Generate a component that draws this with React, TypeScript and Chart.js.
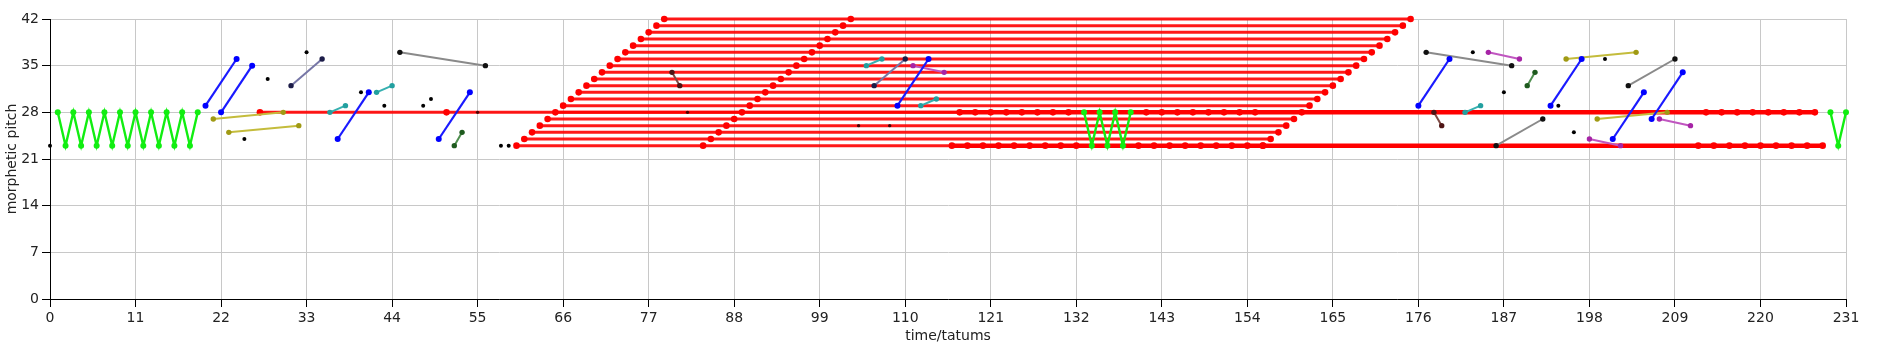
import React, { useEffect, useRef } from "react";
import { Chart, registerables } from "chart.js";

Chart.register(...registerables);

// ---- axes ----
const X_TICKS = [0, 11, 22, 33, 44, 55, 66, 77, 88, 99, 110, 121, 132, 143, 154, 165, 176, 187, 198, 209, 220, 231];
const Y_TICKS = [0, 7, 14, 21, 28, 35, 42];
const X_TITLE = "time/tatums";
const Y_TITLE = "morphetic pitch";

// ---- red staircase (20 translated occurrences) ----
const stairPitch = [23, 24, 25, 26, 27, 28, 29, 30, 31, 32, 33, 34, 35, 36, 37, 38, 39, 40, 41, 42];
const stairOnset = [60, 61, 62, 63, 64, 65, 66, 67, 68, 69, 70, 71, 72, 73, 74, 75, 76, 77, 78, 79];
const stairMiddle = [84, 85, 86, 87, 88, 89, 90, 91, 92, 93, 94, 95, 96, 97, 98, 99, 100, 101, 102, 103];
const stairOffset = [156, 157, 158, 159, 160, 161, 162, 163, 164, 165, 166, 167, 168, 169, 170, 171, 172, 173, 174, 175];

// ---- red long lines ----
const red28Dots = [27, 51];
const red28Span = [27, 227];
const redThick28 = [117, 119, 121, 123, 125, 127, 129, 131, 141, 143, 145, 147, 149, 151, 153, 155, 213, 215, 217, 219, 221, 223, 225, 227];
const redThick23 = [116, 118, 120, 122, 124, 126, 128, 130, 132, 140, 142, 144, 146, 148, 150, 152, 154, 156, 212, 214, 216, 218, 220, 222, 224, 226, 228];

// ---- green zigzags ----
const greenA_t = [1, 2, 3, 4, 5, 6, 7, 8, 9, 10, 11, 12, 13, 14, 15, 16, 17, 18, 19];
const greenA_p = [28, 23, 28, 23, 28, 23, 28, 23, 28, 23, 28, 23, 28, 23, 28, 23, 28, 23, 28];
const greenB_t = [133, 134, 135, 136, 137, 138, 139];
const greenB_p = [28, 23, 28, 23, 28, 23, 28];
const greenC_t = [229, 230, 231];
const greenC_p = [28, 23, 28];

// ---- two-note segments [t1, p1, t2, p2] ----
const blueSegs = [[20, 29, 24, 36], [22, 28, 26, 35], [37, 24, 41, 31], [50, 24, 54, 31], [109, 29, 113, 36], [176, 29, 180, 36], [193, 29, 197, 36], [201, 24, 205, 31], [206, 27, 210, 34]];
const oliveSegs = [[21, 27, 30, 28], [23, 25, 32, 26], [195, 36, 204, 37], [199, 27, 208, 28]];
const slateSegs = [[31, 32, 35, 36], [106, 32, 110, 36]];
const graySegs = [[45, 37, 56, 35], [177, 37, 188, 35], [186, 23, 192, 27], [203, 32, 209, 36]];
const cyanSegs = [[36, 28, 38, 29], [42, 31, 44, 32], [105, 35, 107, 36], [112, 29, 114, 30], [182, 28, 184, 29]];
const magentaSegs = [[111, 35, 115, 34], [185, 37, 189, 36], [198, 24, 202, 23], [207, 27, 211, 26]];
const darkGreenSegs = [[52, 23, 53, 25], [190, 32, 191, 34]];
const brownSegs = [[80, 34, 81, 32], [178, 28, 179, 26]];

// ---- single notes ----
const blackDots = [[0, 23], [25, 24], [28, 33], [33, 37], [40, 31], [43, 29], [48, 29], [49, 30], [58, 23], [59, 23], [183, 37], [187, 31], [194, 29], [196, 25], [200, 36]];
const tinyDots = [[55, 28], [82, 28], [104, 26], [108, 26]];

export default function App() {
  const ref = useRef<HTMLCanvasElement>(null);

  useEffect(() => {
    if (!ref.current) return;
    const datasets: any[] = [];
    const base = { clip: false, tension: 0, pointBorderWidth: 0 };
    const line = (data: { x: number; y: number }[], lineColor: string, width: number, pointColor: string, radius: number) => {
      datasets.push({
        ...base,
        data,
        showLine: true,
        borderColor: lineColor,
        borderWidth: width,
        pointBackgroundColor: pointColor,
        pointBorderColor: pointColor,
        pointRadius: radius,
        pointHoverRadius: radius,
      });
    };
    const dots = (data: { x: number; y: number }[], color: string, radius: number) => {
      datasets.push({
        ...base,
        data,
        showLine: false,
        pointBackgroundColor: color,
        pointBorderColor: color,
        pointRadius: radius,
        pointHoverRadius: radius,
      });
    };
    const segs = (list: number[][], lineColor: string, pointColor: string, width: number, radius: number) => {
      list.forEach((s) => line([{ x: s[0], y: s[1] }, { x: s[2], y: s[3] }], lineColor, width, pointColor, radius));
    };

    // top-most first
    dots(tinyDots.map((d) => ({ x: d[0], y: d[1] })), "rgba(40,0,0,0.85)", 1.7);
    dots(blackDots.map((d) => ({ x: d[0], y: d[1] })), "#000000", 2);
    segs(blueSegs, "#1a1aff", "#0000ff", 2.2, 3);
    segs(oliveSegs, "#c4bc3c", "#a09a14", 2, 2.7);
    segs(slateSegs, "#7676a6", "#1c1c48", 2, 2.7);
    segs(graySegs, "#8a8a8a", "#111111", 2, 2.7);
    segs(cyanSegs, "#36b0b0", "#22a0a0", 2, 2.7);
    segs(magentaSegs, "#c056c0", "#a624a6", 2, 2.7);
    segs(darkGreenSegs, "#4e8e4e", "#1e5a1e", 2, 2.7);
    segs(brownSegs, "#7e4a44", "#4e1414", 2, 2.7);
    line(greenA_t.map((t, i) => ({ x: t, y: greenA_p[i] })), "#11ee11", 2.4, "#11ee11", 3);
    line(greenB_t.map((t, i) => ({ x: t, y: greenB_p[i] })), "#11ee11", 2.4, "#11ee11", 3);
    line(greenC_t.map((t, i) => ({ x: t, y: greenC_p[i] })), "#11ee11", 2.4, "#11ee11", 3);

    // red
    line(redThick28.map((t) => ({ x: t, y: 28 })), "#ff0000", 4.5, "#ff0000", 3.3);
    line(redThick23.map((t) => ({ x: t, y: 23 })), "#ff0000", 4.5, "#ff0000", 3.3);
    dots(red28Dots.map((t) => ({ x: t, y: 28 })), "#ff0000", 3.3);
    line(red28Span.map((t) => ({ x: t, y: 28 })), "rgba(255,0,0,0.9)", 3, "#ff0000", 0);
    stairPitch.forEach((p, i) => {
      line(
        [
          { x: stairOnset[i], y: p },
          { x: stairMiddle[i], y: p },
          { x: stairOffset[i], y: p },
        ],
        "rgba(255,0,0,0.9)",
        3,
        "#ff0000",
        3.3
      );
    });

    const font = { family: "'DejaVu Sans', sans-serif", size: 14 };
    const chart = new Chart(ref.current, {
      type: "scatter",
      data: { datasets },
      options: {
        animation: false,
        responsive: false,
        events: [],
        layout: { padding: { top: 19, right: 32, left: 0, bottom: 0 } },
        plugins: { legend: { display: false }, tooltip: { enabled: false } },
        scales: {
          x: {
            type: "linear",
            min: 0,
            max: 231,
            afterBuildTicks: (s: any) => {
              s.ticks = X_TICKS.map((v) => ({ value: v }));
            },
            afterFit: (s: any) => {
              s.height = 54;
            },
            ticks: { font, color: "#222", padding: 3, maxRotation: 0, autoSkip: false },
            grid: { color: "#c8c8c8", lineWidth: 1, tickColor: "#000", tickLength: 8, drawTicks: true },
            border: { color: "#000", width: 1 },
            title: { display: true, text: X_TITLE, font, color: "#222", padding: { top: 0, bottom: 8 } },
          },
          y: {
            type: "linear",
            min: 0,
            max: 42,
            afterBuildTicks: (s: any) => {
              s.ticks = Y_TICKS.map((v) => ({ value: v }));
            },
            afterFit: (s: any) => {
              s.width = 50;
            },
            ticks: { font, color: "#222", padding: 3, autoSkip: false },
            grid: { color: "#c8c8c8", lineWidth: 1, tickColor: "#000", tickLength: 8, drawTicks: true },
            border: { color: "#000", width: 1 },
            title: { display: true, text: Y_TITLE, font, color: "#222", padding: { top: 4, bottom: 4 } },
          },
        },
      } as any,
    });
    return () => chart.destroy();
  }, []);

  return (
    <div style={{ position: "absolute", left: 0, top: 0, width: 1878, height: 353, background: "#fff" }}>
      <canvas ref={ref} width={1878} height={353} style={{ display: "block", width: 1878, height: 353 }} />
    </div>
  );
}
